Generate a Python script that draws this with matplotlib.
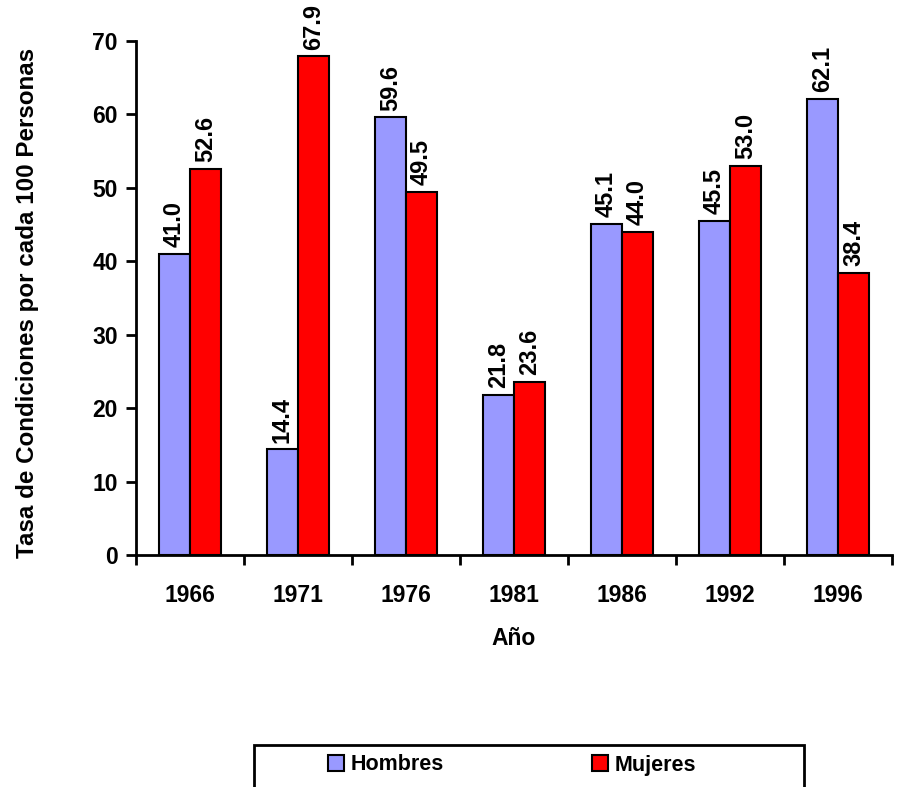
import numpy as np
import matplotlib
matplotlib.use("Agg")
import matplotlib.pyplot as plt
from matplotlib.patches import Patch, Rectangle

years = ["1966", "1971", "1976", "1981", "1986", "1992", "1996"]
hombres = [41.0, 14.4, 59.6, 21.8, 45.1, 45.5, 62.1]
mujeres = [52.6, 67.9, 49.5, 23.6, 44.0, 53.0, 38.4]

plt.rcParams['font.family'] = ['Liberation Sans', 'DejaVu Sans']
plt.rcParams['font.weight'] = 'bold'
fs = 16.5

fig = plt.figure(figsize=(9.01, 7.87), dpi=100)
ax = fig.add_axes([136/901, (787-555)/787, (892-136)/901, (555-41)/787])

x = np.arange(len(years))
w = 31/108
azul = '#9999ff'
rojo = '#ff0000'
b1 = ax.bar(x - w/2, hombres, w, color=azul, edgecolor='black', linewidth=1.5)
b2 = ax.bar(x + w/2, mujeres, w, color=rojo, edgecolor='black', linewidth=1.5)

for bars, vals in ((b1, hombres), (b2, mujeres)):
    for r, v in zip(bars, vals):
        ax.text(r.get_x() + r.get_width()/2, v + 0.9, "%.1f" % v, rotation=90,
                ha='center', va='bottom', fontsize=17, fontweight='bold')

ax.set_xlim(-0.5, len(years) - 0.5)
ax.set_ylim(0, 70)
ax.set_yticks(range(0, 71, 10))
ax.set_xticks(np.arange(len(years) + 1) - 0.5)
ax.set_xticklabels([])
ax.set_xticks(x, minor=True)
ax.set_xticklabels(years, minor=True, fontsize=fs, fontweight='bold')
ax.tick_params(axis='x', which='minor', length=0, pad=21)
ax.tick_params(axis='x', which='major', length=7, width=2, direction='out')
ax.tick_params(axis='y', length=7, width=2, direction='out', labelsize=fs, pad=6)
for lab in ax.get_yticklabels():
    lab.set_fontweight('bold')
for s in ('top', 'right'):
    ax.spines[s].set_visible(False)
for s in ('left', 'bottom'):
    ax.spines[s].set_linewidth(2)

ax.set_xlabel("Año", fontsize=fs, fontweight='bold', labelpad=14)
ax.set_ylabel("Tasa de Condiciones por cada 100 Personas", fontsize=17.4,
              fontweight='bold')
ax.yaxis.set_label_coords((39 - 136) / 756, 0.49)

# legend box
fig.patches.append(Rectangle((254/901, -0.01), (804-254)/901, (787-745)/787 + 0.01,
                             transform=fig.transFigure, fill=False,
                             edgecolor='black', linewidth=2))
handles = [Patch(facecolor=azul, edgecolor='black', linewidth=1.5, label='Hombres'),
           Patch(facecolor=rojo, edgecolor='black', linewidth=1.5, label='Mujeres')]
fig.legend(handles=handles, loc='center', bbox_to_anchor=(512/901, (787-765)/787),
           ncol=2, frameon=False, prop={'weight': 'bold', 'size': 15.5},
           handlelength=0.75, handleheight=0.75, handletextpad=0.3, columnspacing=6.9)

fig.savefig("out.png", dpi=100)
